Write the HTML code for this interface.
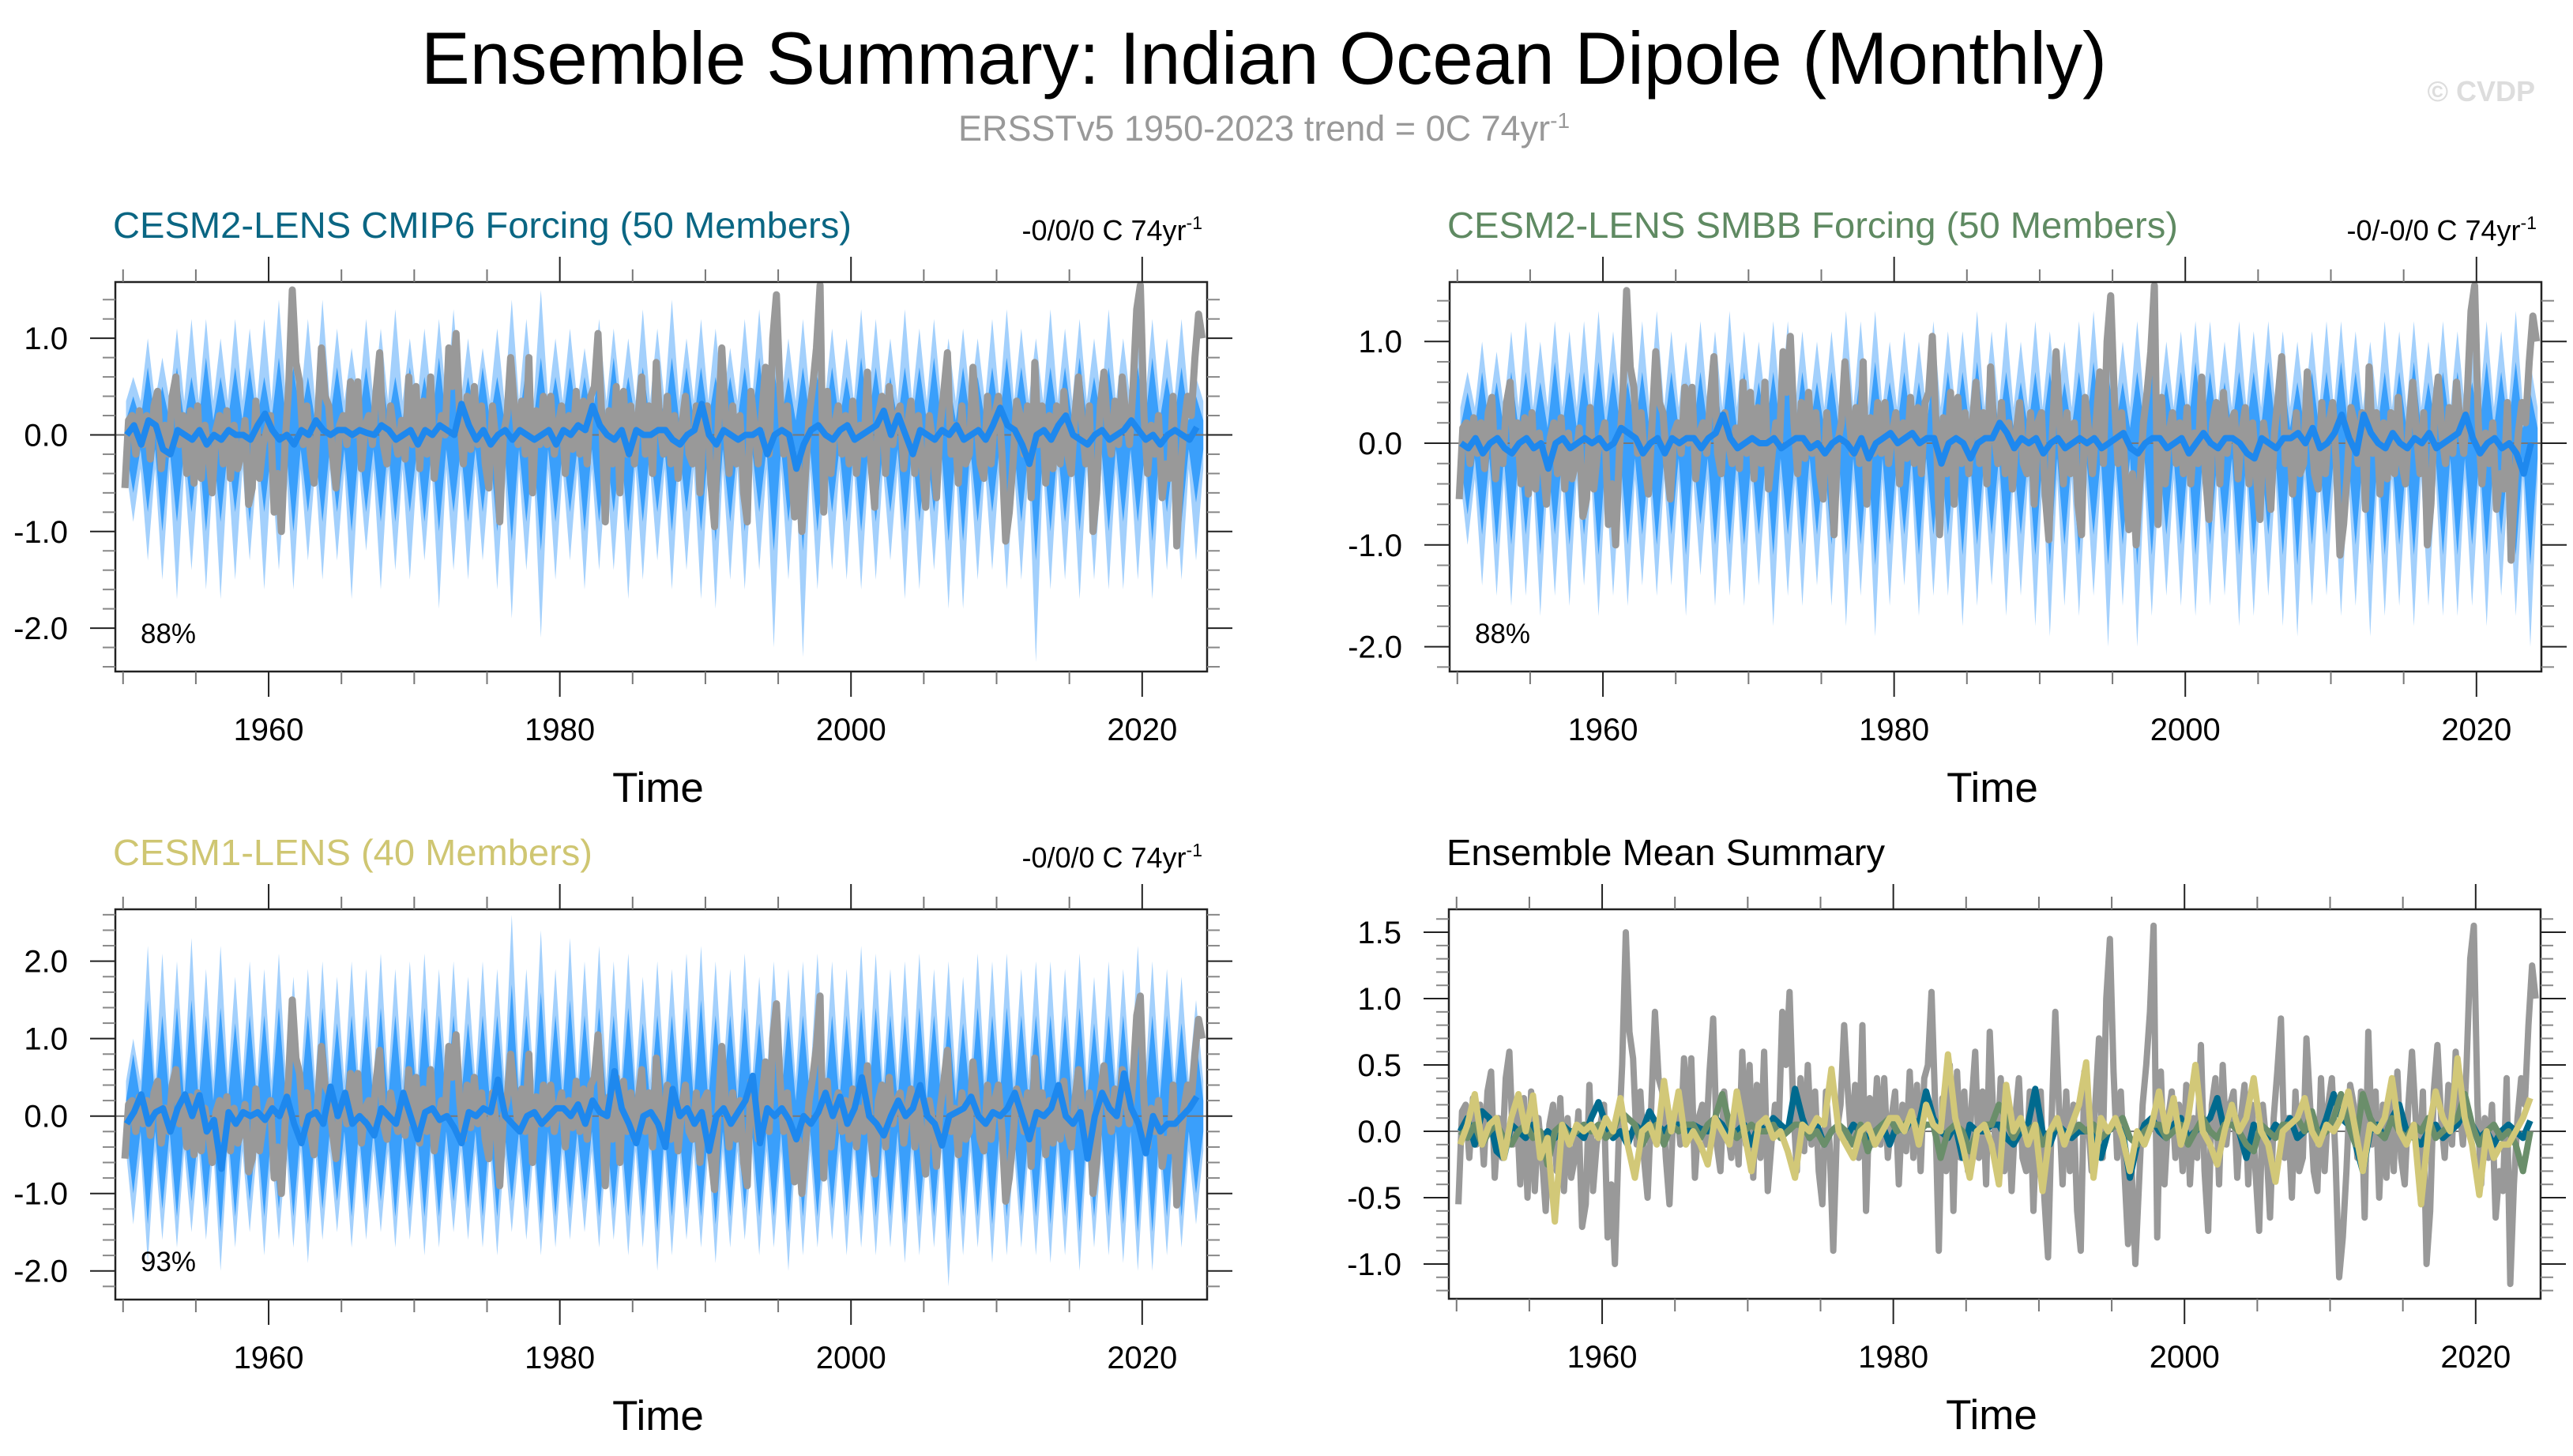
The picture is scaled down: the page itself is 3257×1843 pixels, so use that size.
<!DOCTYPE html>
<html><head><meta charset="utf-8"><title>Ensemble Summary: Indian Ocean Dipole (Monthly)</title>
<style>html,body{margin:0;padding:0;background:#fff}svg{display:block}text{font-family:"Liberation Sans",Arial,sans-serif}</style>
</head><body>
<svg id="chart" width="3257" height="1843" viewBox="0 0 3257 1843" xmlns="http://www.w3.org/2000/svg">
<rect x="0" y="0" width="3257" height="1843" fill="#fff"/>
<text x="1600" y="106" font-size="94" text-anchor="middle" textLength="2134" lengthAdjust="spacingAndGlyphs">Ensemble Summary: Indian Ocean Dipole (Monthly)</text>
<text x="1600" y="178" font-size="45" fill="#999" text-anchor="middle">ERSSTv5 1950-2023 trend = 0C 74yr<tspan dy="-16" font-size="28">-1</tspan></text>
<text x="3209" y="128" font-size="36" font-weight="bold" fill="#ddd" text-anchor="end">© CVDP</text>
<g id="plots"></g>
</svg>
<script>
// ---- data ----
const startYear = 1950;
// observed ERSSTv5 IOD index, quarterly samples 1950-2023 (+ Jan 2024)
const obs = [
-0.55,0.15,0.2,-0.2, 0.25,-0.1,0.2,-0.25, 0.3,0.45,-0.35,0.1, -0.2,0.4,0.6,-0.1, 0.2,-0.4,0.25,-0.5,
0.3,-0.45,0.1,-0.2, -0.6,0.05,0.2,-0.3, 0.25,-0.45,0.1,-0.35, -0.2,0.15,-0.72,-0.55, 0.35,-0.45,-0.1,0.05,
0.2,-0.8,-0.4,-1.0, -0.1,0.5,1.5,0.75, 0.55,-0.1,0.3,-0.2, -0.5,0.2,0.9,0.4, 0.3,-0.2,-0.55,0.1,
0.2,-0.1,0.55,0.0, 0.55,-0.35,0.1,0.2, -0.1,0.45,0.85,-0.1, -0.3,0.3,0.0,-0.2, 0.15,-0.25,0.6,-0.1,
0.5,-0.35,0.35,-0.2, 0.6,-0.45,-0.1,0.2, 0.0,0.9,0.5,1.05, 0.2,-0.3,0.4,-0.15, 0.5,-0.1,0.3,-0.3,
-0.55,0.3,-0.1,-0.9, 0.0,0.2,0.8,0.3, -0.1,0.35,-0.2,0.8, -0.6,0.25,-0.1,0.4, -0.1,0.4,-0.2,0.1,
0.3,-0.4,0.2,-0.15, 0.45,-0.2,0.35,-0.3, 0.4,0.5,1.05,0.2, -0.9,0.25,-0.3,0.5, -0.6,0.45,-0.2,0.3,
-0.3,0.2,0.6,-0.2, 0.3,-0.4,0.75,0.1, -0.2,0.4,-0.3,0.2, -0.45,0.1,0.4,-0.2, -0.3,0.3,-0.6,0.2,
0.3,-0.5,-0.95,0.1, 0.9,0.2,-0.4,0.3, -0.3,0.2,-0.6,-0.9, 0.45,0.1,-0.3,0.2, 0.7,-0.2,1.0,1.45,
0.45,-0.2,0.3,-0.3, -0.85,-0.3,-1.0,-0.4, 0.2,0.5,0.9,1.55, -0.8,0.45,-0.4,0.1, 0.3,-0.2,0.2,-0.3,
0.35,-0.4,0.1,-0.2, 0.65,-0.3,-0.75,0.2, 0.4,-0.4,0.5,-0.1, 0.2,0.3,-0.35,0.1, 0.35,-0.4,0.2,-0.3,
-0.75,0.2,-0.1,-0.65, 0.1,0.45,0.85,-0.2, 0.1,-0.5,0.3,-0.3, -0.2,0.7,0.2,-0.3, -0.45,0.4,-0.3,0.2,
0.4,-0.2,-1.1,-0.8, -0.3,0.35,0.2,-0.2, 0.3,-0.65,0.75,-0.1, 0.3,-0.5,0.2,-0.35, 0.3,-0.3,0.45,-0.2,
-0.4,0.2,0.6,0.1, -0.3,0.3,-1.0,-0.6, 0.3,0.65,0.1,-0.2, 0.35,-0.1,0.6,0.2, -0.1,0.5,1.3,1.55,
0.2,-0.4,0.1,-0.2, 0.2,-0.65,-0.3,-0.45, 0.4,-1.15,-0.4,0.1, 0.4,0.2,0.8,1.25, 1.0];
// ensemble means, half-yearly samples
const meanCMIP6 = [0.0,0.1,-0.1,0.15,0.1,-0.15,-0.2,0.05,0.0,-0.05,0.05,-0.1,0.0,-0.05,0.05,0.0,0.0,-0.05,0.1,0.22,
0.05,-0.05,0.0,-0.1,0.05,0.0,0.15,0.05,0.0,0.05,0.05,0.0,0.05,0.02,0.0,0.1,0.05,-0.05,0.0,0.05,
-0.1,0.05,0.0,0.1,0.05,0.0,0.32,0.1,-0.05,0.05,-0.1,0.0,0.05,-0.05,0.05,0.0,-0.05,0.0,0.05,-0.1,
0.05,0.0,0.1,0.05,0.3,0.1,0.0,-0.05,0.05,-0.2,0.05,0.0,0.0,0.05,0.05,-0.05,-0.1,0.0,0.05,0.32,
0.0,-0.1,0.05,0.0,-0.05,0.0,0.0,0.05,-0.2,0.0,0.05,0.0,-0.35,-0.1,0.05,0.1,0.0,-0.05,0.05,0.1,
-0.05,0.0,0.05,0.1,0.25,0.0,0.2,0.0,-0.2,0.05,0.0,-0.05,0.05,0.0,0.1,-0.05,0.0,0.05,-0.05,0.1,
0.28,0.1,0.05,-0.1,-0.3,0.0,0.05,-0.05,0.1,0.2,0.0,-0.05,-0.1,0.0,0.05,-0.05,0.0,0.05,0.15,0.05,
-0.05,0.0,-0.1,0.0,0.05,0.0,-0.05,0.08];
const meanSMBB = [0.0,-0.05,0.05,-0.1,0.0,0.05,-0.05,-0.1,0.0,0.05,-0.05,0.0,-0.25,0.0,0.05,-0.05,0.0,0.05,0.0,0.05,
-0.05,0.0,0.15,0.1,0.05,-0.1,0.0,0.05,-0.1,0.05,0.0,0.05,0.05,-0.05,0.05,0.1,0.28,0.05,-0.05,0.0,
0.05,0.0,0.0,0.05,-0.05,0.0,0.05,0.05,-0.05,0.0,-0.1,0.0,0.05,0.0,-0.1,0.05,-0.15,0.0,0.05,0.1,
0.0,0.05,0.1,0.0,0.05,0.05,-0.2,0.0,0.05,0.0,-0.15,0.0,0.05,0.05,0.2,0.1,-0.05,0.05,0.0,0.05,
-0.1,0.0,0.05,-0.05,0.0,0.05,0.0,0.05,-0.05,0.0,0.05,0.1,-0.05,-0.1,0.0,0.05,0.05,-0.05,0.0,0.05,
-0.1,0.0,0.1,0.0,-0.05,0.05,0.05,0.0,-0.1,-0.15,0.05,0.0,-0.05,0.05,0.05,0.1,0.0,0.15,-0.05,0.0,
0.1,0.28,0.05,-0.1,0.28,0.1,0.0,-0.05,0.1,0.0,-0.05,0.05,0.0,0.1,-0.05,0.0,0.05,0.1,0.28,0.05,
-0.1,0.0,0.05,-0.05,0.0,-0.1,-0.3,0.0];
const meanCESM1 = [-0.1,0.05,0.28,-0.1,0.05,0.1,-0.2,0.1,0.28,0.0,0.27,-0.2,-0.05,-0.68,0.05,-0.1,0.05,0.0,0.05,-0.05,
0.1,0.0,0.25,-0.1,-0.35,0.0,0.05,-0.1,0.38,0.0,0.3,-0.1,0.0,-0.1,-0.25,0.1,0.0,-0.1,0.3,0.0,
-0.3,0.05,0.1,-0.05,0.0,-0.15,-0.35,0.05,0.0,0.1,0.05,0.47,0.0,-0.1,-0.2,0.0,0.05,-0.1,0.0,0.1,
0.1,0.0,0.15,-0.1,0.2,0.05,0.0,0.58,0.1,-0.1,-0.35,0.0,0.05,-0.1,-0.4,0.35,0.0,0.1,-0.1,0.05,
-0.45,0.0,0.1,-0.1,0.05,0.2,0.52,-0.35,0.1,0.0,0.1,-0.05,-0.3,0.0,-0.1,0.05,0.3,0.0,0.25,-0.1,
0.1,0.5,0.0,-0.1,-0.25,0.0,0.2,0.0,0.1,0.4,0.0,-0.1,-0.38,0.0,0.05,0.1,0.25,0.0,-0.1,0.05,
0.0,0.1,0.3,0.0,-0.3,0.05,0.0,0.1,0.4,0.0,-0.1,0.05,-0.55,0.0,0.3,0.1,0.0,0.55,0.1,-0.1,
-0.48,0.0,-0.2,-0.1,-0.1,0.0,0.1,0.25];
// yearly ensemble spread extremes (outer = min/max, inner = 10-90%)
const p1OutHi = [0.6,1.0,0.8,1.1,1.2,1.2,1.0,1.2,1.1,1.2,1.4,1.0,1.2,1.4,1.1,0.9,1.2,1.1,1.3,1.0,1.1,1.2,1.3,1.0,0.9,1.1,1.4,1.2,1.5,1.0,1.1,0.9,1.2,1.1,1.0,1.3,1.1,1.4,1.0,1.2,1.1,0.9,1.2,1.3,1.1,1.0,1.2,1.0,1.1,1.0,1.3,1.2,1.0,1.3,1.1,1.2,1.0,1.1,1.0,1.2,1.3,1.1,1.0,1.3,1.1,1.2,1.0,1.3,1.0,1.1,1.2,1.0,1.2,0.6];
const p1OutLo = [-0.9,-1.3,-1.5,-1.7,-1.4,-1.6,-1.7,-1.5,-1.3,-1.6,-1.4,-1.6,-1.3,-1.5,-1.3,-1.7,-1.2,-1.6,-1.4,-1.5,-1.3,-1.8,-1.4,-1.5,-1.3,-1.6,-1.9,-1.4,-2.1,-1.5,-1.3,-1.6,-1.4,-1.4,-1.7,-1.5,-1.3,-1.6,-1.4,-1.7,-1.8,-1.5,-1.6,-1.4,-2.2,-1.5,-2.3,-1.6,-1.4,-1.5,-1.6,-1.5,-1.3,-1.7,-1.6,-1.4,-1.8,-1.8,-1.5,-1.4,-1.6,-1.5,-2.35,-1.6,-1.5,-1.7,-1.5,-1.6,-1.6,-1.5,-1.7,-1.4,-1.5,-1.3];
const p1InHi = [0.4,0.7,0.5,0.7,0.6,0.8,0.6,0.7,0.7,0.6,0.8,0.7,0.6,0.8,0.7,0.6,0.7,0.8,0.6,0.7,0.6,0.8,0.7,0.6,0.7,0.6,0.8,0.7,0.8,0.6,0.7,0.6,0.7,0.8,0.6,0.7,0.6,0.8,0.7,0.7,0.6,0.6,0.7,0.8,0.7,0.6,0.7,0.6,0.7,0.6,0.8,0.7,0.6,0.7,0.7,0.8,0.6,0.7,0.6,0.7,0.8,0.7,0.6,0.7,0.7,0.8,0.6,0.7,0.6,0.7,0.8,0.6,0.7,0.4];
const p1InLo = [-0.6,-0.8,-1.0,-0.9,-0.8,-1.0,-0.9,-0.8,-0.9,-0.8,-0.9,-1.0,-0.8,-0.9,-0.8,-1.0,-0.8,-0.9,-0.9,-0.8,-0.9,-1.0,-0.8,-0.9,-0.8,-1.0,-1.1,-0.9,-1.2,-0.9,-0.8,-1.0,-0.9,-0.8,-1.0,-0.9,-0.8,-1.0,-0.8,-1.0,-1.1,-0.9,-1.0,-0.8,-1.2,-0.9,-1.2,-1.0,-0.8,-0.9,-1.0,-0.9,-0.8,-1.0,-0.9,-0.8,-1.1,-1.1,-0.9,-0.8,-1.0,-0.9,-1.3,-1.0,-0.9,-1.0,-0.9,-1.0,-0.9,-0.9,-1.1,-0.8,-0.9,-0.7];
const p2OutHi = [0.7,1.0,0.9,1.1,1.2,1.0,1.2,1.1,1.2,1.3,1.1,1.0,1.2,1.3,1.1,1.0,1.2,1.1,1.3,1.1,1.0,1.2,1.2,1.1,1.0,1.1,1.3,1.2,1.3,1.0,1.1,1.0,1.2,1.1,1.1,1.3,1.1,1.2,1.0,1.2,1.1,1.0,1.2,1.3,1.1,1.0,1.2,1.1,1.0,1.1,1.2,1.2,1.0,1.2,1.1,1.2,1.1,1.0,1.1,1.2,1.2,1.1,1.0,1.2,1.1,1.2,1.0,1.2,1.1,1.0,1.2,1.1,1.3,0.8];
const p2OutLo = [-1.0,-1.4,-1.5,-1.6,-1.5,-1.7,-1.5,-1.6,-1.4,-1.7,-1.5,-1.6,-1.4,-1.5,-1.4,-1.7,-1.3,-1.6,-1.5,-1.6,-1.4,-1.8,-1.5,-1.6,-1.4,-1.6,-1.8,-1.5,-1.9,-1.6,-1.4,-1.7,-1.5,-1.5,-1.8,-1.6,-1.4,-1.7,-1.5,-1.8,-1.9,-1.6,-1.7,-1.5,-2.0,-1.6,-2.0,-1.7,-1.5,-1.6,-1.7,-1.6,-1.5,-1.8,-1.7,-1.5,-1.8,-1.9,-1.6,-1.5,-1.7,-1.6,-1.9,-1.7,-1.6,-1.8,-1.6,-1.7,-1.7,-1.6,-1.8,-1.5,-1.7,-2.0];
const p2InHi = [0.5,0.7,0.6,0.7,0.7,0.6,0.8,0.7,0.7,0.8,0.7,0.6,0.7,0.8,0.7,0.6,0.7,0.7,0.8,0.7,0.6,0.7,0.8,0.7,0.6,0.7,0.8,0.7,0.8,0.6,0.7,0.6,0.7,0.7,0.7,0.8,0.7,0.7,0.6,0.7,0.7,0.6,0.7,0.8,0.7,0.6,0.7,0.7,0.6,0.7,0.8,0.7,0.6,0.7,0.7,0.8,0.7,0.6,0.7,0.7,0.8,0.7,0.6,0.7,0.7,0.8,0.6,0.7,0.7,0.6,0.8,0.7,0.8,0.5];
const p2InLo = [-0.7,-0.9,-1.0,-1.0,-0.9,-1.1,-0.9,-1.0,-0.9,-1.1,-0.9,-1.0,-0.9,-1.0,-0.9,-1.1,-0.8,-1.0,-1.0,-1.0,-0.9,-1.1,-0.9,-1.0,-0.9,-1.0,-1.1,-1.0,-1.2,-1.0,-0.9,-1.1,-0.9,-0.9,-1.1,-1.0,-0.9,-1.1,-0.9,-1.1,-1.2,-1.0,-1.1,-0.9,-1.2,-1.0,-1.2,-1.1,-0.9,-1.0,-1.1,-1.0,-0.9,-1.1,-1.1,-0.9,-1.1,-1.2,-1.0,-0.9,-1.1,-1.0,-1.2,-1.1,-1.0,-1.1,-1.0,-1.1,-1.1,-1.0,-1.1,-0.9,-1.1,-1.2];
const p3OutHi = [1.0,2.2,2.1,2.0,2.3,1.9,2.2,1.8,2.0,1.9,2.1,1.8,1.9,2.0,1.8,2.0,1.9,2.1,1.9,2.0,2.1,1.9,2.0,1.8,2.0,1.9,2.6,1.9,2.4,1.9,2.3,2.0,2.2,2.0,2.1,1.8,2.0,1.9,2.1,2.2,2.0,1.9,2.1,1.8,2.0,1.9,2.0,2.1,2.0,1.9,2.2,2.1,1.9,2.0,2.1,1.9,2.0,1.8,2.1,2.0,2.1,1.9,2.0,2.0,1.9,2.1,1.8,2.0,1.9,2.2,2.0,1.9,1.8,1.5];
const p3OutLo = [-1.4,-1.9,-1.6,-1.7,-1.5,-1.6,-2.0,-1.7,-1.5,-1.8,-1.6,-1.7,-1.9,-1.6,-1.5,-1.7,-1.6,-1.5,-1.7,-1.6,-1.8,-1.7,-1.5,-1.6,-1.7,-1.8,-1.5,-1.6,-1.8,-1.7,-1.6,-1.5,-1.7,-1.6,-1.8,-1.7,-2.0,-1.8,-1.6,-1.7,-1.9,-1.7,-1.6,-1.8,-1.7,-2.0,-1.8,-1.7,-1.6,-1.8,-1.7,-1.8,-1.7,-1.9,-1.8,-1.7,-2.2,-1.8,-1.7,-1.9,-1.8,-1.7,-1.8,-1.9,-1.8,-2.0,-1.7,-1.8,-1.9,-2.0,-2.0,-1.8,-1.7,-1.4];
const p3InHi = [0.8,1.5,1.3,1.4,1.5,1.3,1.4,1.2,1.3,1.3,1.4,1.2,1.3,1.4,1.2,1.3,1.3,1.4,1.3,1.3,1.4,1.3,1.3,1.2,1.3,1.3,1.7,1.3,1.6,1.3,1.5,1.3,1.4,1.3,1.4,1.2,1.3,1.3,1.4,1.5,1.3,1.3,1.4,1.2,1.3,1.3,1.3,1.4,1.3,1.3,1.4,1.4,1.3,1.3,1.4,1.3,1.3,1.2,1.4,1.3,1.4,1.3,1.3,1.3,1.3,1.4,1.2,1.3,1.3,1.4,1.3,1.3,1.2,1.0];
const p3InLo = [-1.0,-1.4,-1.2,-1.3,-1.1,-1.2,-1.5,-1.3,-1.1,-1.3,-1.2,-1.3,-1.4,-1.2,-1.1,-1.3,-1.2,-1.1,-1.3,-1.2,-1.3,-1.3,-1.1,-1.2,-1.3,-1.3,-1.1,-1.2,-1.4,-1.3,-1.2,-1.1,-1.3,-1.2,-1.3,-1.3,-1.5,-1.3,-1.2,-1.3,-1.4,-1.3,-1.2,-1.3,-1.3,-1.5,-1.3,-1.3,-1.2,-1.3,-1.3,-1.3,-1.3,-1.4,-1.3,-1.3,-1.6,-1.3,-1.3,-1.4,-1.3,-1.3,-1.3,-1.4,-1.3,-1.5,-1.3,-1.3,-1.4,-1.5,-1.5,-1.3,-1.3,-1.0];
const xTickYears = [1960,1980,2000,2020];
const yTicksA = [1.0,0.0,-1.0,-2.0];
const yTicksB = [2.0,1.0,0.0,-1.0,-2.0];
const yTicksC = [1.5,1.0,0.5,0.0,-0.5,-1.0];

// ---- drawing ----
const NS = "http://www.w3.org/2000/svg";
const root = document.getElementById("plots");
const XMIN = 1949.47, XMAX = 2024.46;
function mk(tag, attrs, parent){
  const e = document.createElementNS(NS, tag);
  for (const k in attrs) e.setAttribute(k, attrs[k]);
  (parent||root).appendChild(e);
  return e;
}
let clipN = 0;
function panel(o){
  const g = mk("g", {});
  
  
  const sx = v => o.x + (v - XMIN) / (XMAX - XMIN) * o.w;
  const sy = v => o.y + (o.ymax - v) / (o.ymax - o.ymin) * o.h;
  const cid = "clip" + (clipN++);
  const cp = mk("clipPath", {id: cid}, g);
  mk("rect", {x:o.x, y:o.y, width:o.w, height:o.h}, cp);
  const plot = mk("g", {"clip-path":"url(#"+cid+")"}, g);
  function band(hi, lo, nHi, nLo, fill, nm){
    const top = [], bot = [];
    for (let i=0;i<hi.length;i++){
      const yr = startYear + i;
      top.push([yr+0.2, nHi],[yr+0.7, hi[i]]);
      bot.push([yr+0.2, nLo],[yr+0.7, lo[i]]);
    }
    const last = startYear + hi.length;
    top.push([last+0.2, nHi]); bot.push([last+0.2, nLo]);
    const pts = top.concat(bot.reverse()).map(p => sx(p[0]).toFixed(1)+","+sy(p[1]).toFixed(1)).join(" ");
    const e = mk("polygon", {points:pts, fill:fill}, plot);
    
    
  }
  function line(vals, step, off, color, wdt, nm){
    const pts = vals.map((v,i) => sx(startYear + i*step + off).toFixed(1)+","+sy(v).toFixed(1)).join(" ");
    const e = mk("polyline", {points:pts, fill:"none", stroke:color, "stroke-width":wdt, "stroke-linejoin":"round"}, plot);
    
    
  }
  if (o.bands){
    band(o.bands[0], o.bands[1], o.narrow[0], o.narrow[1], "#a3d0fc", "ensemble-range-band");
    band(o.bands[2], o.bands[3], o.narrow[2], o.narrow[3], "#3a9ffb", "ensemble-10-90-band");
  }
  const z = mk("line", {x1:o.x, x2:o.x+o.w, y1:sy(0), y2:sy(0), stroke:"#777", "stroke-width":2}, plot);
  
  
  line(obs, 0.25, 0.125, "#999999", o.obsW, "observed-line");
  o.lines.forEach(l => line(l.vals, 0.5, 0.25, l.color, l.w, l.name));
  const fr = mk("rect", {x:o.x, y:o.y, width:o.w, height:o.h, fill:"none", stroke:"#222", "stroke-width":2.5}, g);
  
  
  for (let yr=1950; yr<=2020; yr+=5){
    const major = xTickYears.indexOf(yr) >= 0;
    const L = major ? 32 : 16, c = major ? "#222" : "#777";
    mk("line", {x1:sx(yr), x2:sx(yr), y1:o.y, y2:o.y-L, stroke:c, "stroke-width":2}, g);
    mk("line", {x1:sx(yr), x2:sx(yr), y1:o.y+o.h, y2:o.y+o.h+L, stroke:c, "stroke-width":2}, g);
  }
  xTickYears.forEach(yr => {
    const t = mk("text", {x:sx(yr), y:o.y+o.h+87, "font-size":40, "text-anchor":"middle"}, g);
    
    
    t.textContent = yr;
  });
  const nMin = Math.ceil(o.ymin/o.minor - 1e-6), nMax = Math.floor(o.ymax/o.minor + 1e-6);
  for (let k=nMin;k<=nMax;k++){
    const v = k*o.minor;
    const major = o.yt.some(t => Math.abs(t-v) < 1e-6);
    const L = major ? 32 : 16, c = major ? "#222" : "#888";
    mk("line", {x1:o.x, x2:o.x-L, y1:sy(v), y2:sy(v), stroke:c, "stroke-width":2}, g);
    mk("line", {x1:o.x+o.w, x2:o.x+o.w+L, y1:sy(v), y2:sy(v), stroke:c, "stroke-width":2}, g);
  }
  o.yt.forEach(v => {
    const t = mk("text", {x:o.x-60, y:sy(v)+14, "font-size":40, "text-anchor":"end"}, g);
    
    
    t.textContent = v.toFixed(1);
  });
  const xt = mk("text", {x:o.x+o.w/2-4, y:o.y+o.h+165, "font-size":53, "text-anchor":"middle"}, g);
  
  
  xt.textContent = "Time";
  const ti = mk("text", {x:o.x-3, y:o.y-56, "font-size":46, fill:o.tcolor, textLength:o.tlen, lengthAdjust:"spacingAndGlyphs"}, g);
  
  
  ti.textContent = o.title;
  if (o.trend){
    const tr = mk("text", {x:o.x+o.w-6, y:o.y-53, "font-size":36, "text-anchor":"end"}, g);
    
    
    tr.textContent = o.trend;
    const sup = mk("tspan", {dy:-14, "font-size":23}, tr);
    sup.textContent = "-1";
  }
  if (o.pct){
    const p = mk("text", {x:o.x+32, y:o.y+o.h-36, "font-size":35}, g);
    
    
    p.textContent = o.pct;
  }
}
panel({name:"panel-cesm2-cmip6", x:146,y:357,w:1382,h:493, ymin:-2.449, ymax:1.582, yt:yTicksA, minor:0.2,
  bands:[p1OutHi,p1OutLo,p1InHi,p1InLo], narrow:[0.35,-0.35,0.15,-0.15], obsW:9,
  lines:[{vals:meanCMIP6,color:"#1e88ee",w:8,name:"ensemble-mean-line"}],
  title:"CESM2-LENS CMIP6 Forcing (50 Members)", tcolor:"#0a6683", tlen:935, trend:"-0/0/0 C 74yr", pct:"88%"});
panel({name:"panel-cesm2-smbb", x:1835,y:357,w:1382,h:493, ymin:-2.244, ymax:1.584, yt:yTicksA, minor:0.2,
  bands:[p2OutHi,p2OutLo,p2InHi,p2InLo], narrow:[0.35,-0.35,0.15,-0.15], obsW:9,
  lines:[{vals:meanSMBB,color:"#1e88ee",w:8,name:"ensemble-mean-line"}],
  title:"CESM2-LENS SMBB Forcing (50 Members)", tcolor:"#5f8a62", tlen:925, trend:"-0/-0/0 C 74yr", pct:"88%"});
panel({name:"panel-cesm1", x:146,y:1151,w:1382,h:494, ymin:-2.37, ymax:2.67, yt:yTicksB, minor:0.2,
  bands:[p3OutHi,p3OutLo,p3InHi,p3InLo], narrow:[0.45,-0.45,0.2,-0.2], obsW:9,
  lines:[{vals:meanCESM1,color:"#1e88ee",w:8,name:"ensemble-mean-line"}],
  title:"CESM1-LENS (40 Members)", tcolor:"#cfc672", tlen:607, trend:"-0/0/0 C 74yr", pct:"93%"});
panel({name:"panel-ensemble-mean-summary", x:1834,y:1151,w:1382,h:493, ymin:-1.262, ymax:1.673, yt:yTicksC, minor:0.1,
  bands:null, obsW:8,
  lines:[{vals:meanCMIP6,color:"#006a8e",w:8,name:"cmip6-mean-line"},
         {vals:meanSMBB,color:"#6a8e6a",w:8,name:"smbb-mean-line"},
         {vals:meanCESM1,color:"#d2c878",w:8,name:"cesm1-mean-line"}],
  title:"Ensemble Mean Summary", tcolor:"#000", tlen:555, trend:null, pct:null});
</script>
</body></html>
